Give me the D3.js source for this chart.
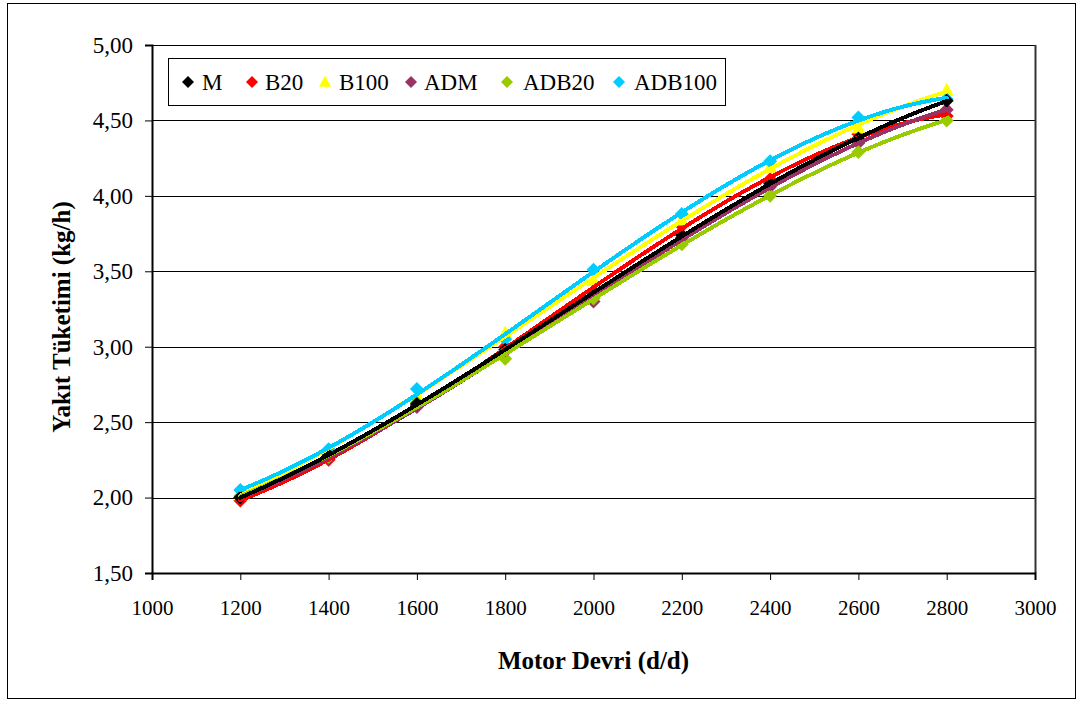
<!DOCTYPE html>
<html>
<head>
<meta charset="utf-8">
<script src="https://cdn.jsdelivr.net/npm/d3@7"></script>
<style>
  html, body { margin: 0; padding: 0; background: #fff; }
  svg { display: block; }
  svg text { font-family: "Liberation Serif", "Tinos", "Times New Roman", "DejaVu Serif", serif !important; fill: #000; }
</style>
</head>
<body>
<svg id="chart" width="1082" height="702"></svg>
<script>
// Engine speed (rpm) at which fuel consumption was measured
const rpm = [1200, 1400, 1600, 1800, 2000, 2200, 2400, 2600, 2800];

// Measured fuel consumption (kg/h) per fuel blend
const M      = [2.00, 2.28, 2.62, 2.98, 3.35, 3.74, 4.08, 4.38, 4.63];
const B20    = [1.98, 2.25, 2.61, 3.00, 3.36, 3.80, 4.11, 4.41, 4.53];
const B100   = [2.02, 2.31, 2.68, 3.09, 3.44, 3.84, 4.19, 4.45, 4.70];
const ADM    = [2.00, 2.26, 2.60, 2.97, 3.30, 3.72, 4.06, 4.35, 4.57];
const ADB20  = [2.01, 2.27, 2.63, 2.92, 3.32, 3.68, 4.00, 4.29, 4.50];
const ADB100 = [2.05, 2.32, 2.72, 3.05, 3.51, 3.88, 4.23, 4.52, 4.64];

const seriesNames = ["M", "B20", "B100", "ADM", "ADB20", "ADB100"];
const seriesValues = [M, B20, B100, ADM, ADB20, ADB100];
const seriesColors = ["#000000", "#ff0000", "#ffff00", "#993366", "#99cc00", "#00ccff"];
const seriesMarkers = ["diamond", "diamond", "triangle", "diamond", "diamond", "diamond"];

const xTicks = [1000, 1200, 1400, 1600, 1800, 2000, 2200, 2400, 2600, 2800, 3000];
const yTicks = [1.5, 2.0, 2.5, 3.0, 3.5, 4.0, 4.5, 5.0];

const FONT = "'Liberation Serif', 'Tinos', 'Times New Roman', 'DejaVu Serif', serif";

// Least-squares polynomial trend (cubic) through each series
function polyFit(xs, ys, degree) {
  const n = degree + 1;
  const A = Array.from({ length: n }, () => new Array(n + 1).fill(0));
  xs.forEach((xv, k) => {
    for (let r = 0; r < n; r++) {
      for (let c = 0; c < n; c++) A[r][c] += Math.pow(xv, r + c);
      A[r][n] += ys[k] * Math.pow(xv, r);
    }
  });
  for (let col = 0; col < n; col++) {
    let piv = col;
    for (let r = col + 1; r < n; r++) if (Math.abs(A[r][col]) > Math.abs(A[piv][col])) piv = r;
    [A[col], A[piv]] = [A[piv], A[col]];
    for (let r = 0; r < n; r++) {
      if (r === col) continue;
      const f = A[r][col] / A[col][col];
      for (let c = col; c <= n; c++) A[r][c] -= f * A[col][c];
    }
  }
  return A.map((row, i) => row[n] / A[i][i]);
}
const norm = v => (v - 2000) / 800;
function trend(values) {
  const coef = polyFit(rpm.map(norm), values, 3);
  const pts = [];
  for (let r = rpm[0]; r <= rpm[rpm.length - 1]; r += 10) {
    const t = norm(r);
    pts.push([r, coef.reduce((s, c, i) => s + c * Math.pow(t, i), 0)]);
  }
  return pts;
}

const svg = d3.select("#chart");

// Outer chart frame
svg.append("rect")
  .attr("x", 7.5).attr("y", 3.5).attr("width", 1068).attr("height", 695)
  .attr("fill", "#fff").attr("stroke", "#000").attr("stroke-width", 1);

const plot = { left: 152, right: 1035, top: 45, bottom: 573 };

const x = d3.scaleLinear().domain([1000, 3000]).range([plot.left, plot.right]);
const y = d3.scaleLinear().domain([1.5, 5.0]).range([plot.bottom, plot.top]);

// Horizontal gridlines
svg.append("g")
  .selectAll("line")
  .data(yTicks.filter(d => d > 1.5))
  .join("line")
  .attr("x1", plot.left).attr("x2", plot.right)
  .attr("y1", d => Math.round(y(d)) + 0.5).attr("y2", d => Math.round(y(d)) + 0.5)
  .attr("stroke", "#000").attr("stroke-width", 1);

// Right edge of plot area
svg.append("line")
  .attr("x1", plot.right + 0.5).attr("x2", plot.right + 0.5)
  .attr("y1", plot.top).attr("y2", plot.bottom)
  .attr("stroke", "#333").attr("stroke-width", 2);

const fmt = d => d3.format(".2f")(d).replace(".", ",");

// Y axis
const yAxis = svg.append("g")
  .attr("transform", `translate(${plot.left},0)`)
  .call(d3.axisLeft(y).tickValues(yTicks).tickFormat(fmt).tickSize(7).tickPadding(12));
yAxis.attr("font-family", FONT);
yAxis.select(".domain").attr("stroke", "#000").attr("stroke-width", 2);
yAxis.selectAll(".tick line").attr("stroke", "#000");
yAxis.selectAll(".tick text").attr("font-size", 23).attr("fill", "#000");

// X axis
const xAxis = svg.append("g")
  .attr("transform", `translate(0,${plot.bottom})`)
  .call(d3.axisBottom(x).tickValues(xTicks).tickFormat(d3.format("d")).tickSize(7).tickPadding(20));
xAxis.attr("font-family", FONT);
xAxis.select(".domain").attr("stroke", "#000").attr("stroke-width", 2);
xAxis.selectAll(".tick line").attr("stroke", "#000");
xAxis.selectAll(".tick text").attr("font-size", 21).attr("fill", "#000");

// Axis titles
svg.append("text")
  .attr("transform", `translate(70,${(plot.top + plot.bottom) / 2 + 8}) rotate(-90)`)
  .attr("text-anchor", "middle")
  .attr("font-family", FONT)
  .attr("font-size", 25).attr("font-weight", "bold")
  .text("Yakıt Tüketimi (kg/h)");

svg.append("text")
  .attr("x", (plot.left + plot.right) / 2).attr("y", 669)
  .attr("text-anchor", "middle")
  .attr("font-family", FONT)
  .attr("font-size", 25).attr("font-weight", "bold")
  .text("Motor Devri (d/d)");

// Marker shapes
const diamondPath = s => `M0,${-s}L${s},0L0,${s}L${-s},0Z`;
const trianglePath = s => `M0,${-s * 1.1}L${s},${s * 0.8}L${-s},${s * 0.8}Z`;
function markerPath(kind, s) {
  return kind === "triangle" ? trianglePath(s) : diamondPath(s);
}

const line = d3.line()
  .x(d => x(d[0]))
  .y(d => y(d[1]));

// Markers first, trend lines above them, base diesel drawn last
const drawOrder = [1, 2, 3, 4, 5, 0];
const markerG = svg.append("g");
const lineG = svg.append("g");
drawOrder.forEach(si => {
  markerG.append("g").selectAll("path")
    .data(seriesValues[si])
    .join("path")
    .attr("transform", (d, i) => `translate(${x(rpm[i])},${y(d)})`)
    .attr("d", markerPath(seriesMarkers[si], 7))
    .attr("fill", seriesColors[si]);
  lineG.append("path")
    .datum(trend(seriesValues[si]))
    .attr("d", line)
    .attr("fill", "none")
    .attr("stroke", seriesColors[si])
    .attr("stroke-width", 4)
    .attr("stroke-linejoin", "round")
    .attr("stroke-linecap", "round")
    .attr("shape-rendering", "crispEdges");
});

// Legend
const legend = svg.append("g").attr("font-family", FONT);
legend.append("rect")
  .attr("x", 168.5).attr("y", 58.5).attr("width", 557).attr("height", 47)
  .attr("fill", "#fff").attr("stroke", "#000").attr("stroke-width", 1);

const legendItems = [
  { mx: 188, tx: 202 },
  { mx: 252, tx: 265 },
  { mx: 325, tx: 339 },
  { mx: 411, tx: 424 },
  { mx: 507, tx: 523 },
  { mx: 619, tx: 634 }
];
seriesNames.forEach((name, i) => {
  const it = legendItems[i];
  legend.append("path")
    .attr("transform", `translate(${it.mx},82)`)
    .attr("d", markerPath(seriesMarkers[i], 6))
    .attr("fill", seriesColors[i]);
  legend.append("text")
    .attr("x", it.tx).attr("y", 90)
    .attr("font-size", 23)
    .text(name);
});
</script>
</body>
</html>
